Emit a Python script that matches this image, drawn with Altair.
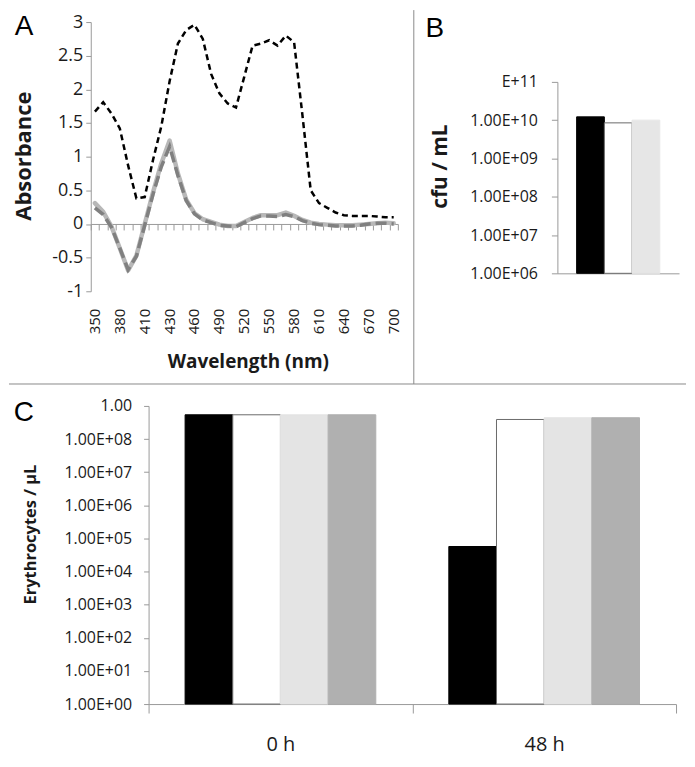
import altair as alt
import pandas as pd

# ---------------- data ----------------
WAVELENGTHS = [350, 360, 370, 380, 390, 400, 410, 415, 420, 430, 440, 450, 460, 470,
               480, 490, 500, 510, 520, 530, 540, 550, 560, 570, 580, 590, 600, 610,
               620, 630, 640, 650, 660, 670, 680, 690, 700]
A_BLACK = [1.67, 1.81, 1.64, 1.42, 0.87, 0.38, 0.40, 0.95, 1.45, 2.12, 2.68, 2.88, 2.96,
           2.75, 2.23, 1.94, 1.79, 1.73, 2.19, 2.65, 2.68, 2.73, 2.65, 2.80, 2.70, 1.62,
           0.50, 0.31, 0.24, 0.17, 0.13, 0.12, 0.12, 0.12, 0.11, 0.10, 0.10]
A_LIGHT = [0.31, 0.18, -0.04, -0.36, -0.69, -0.47, 0.00, 0.47, 0.90, 1.24, 0.75, 0.36,
           0.16, 0.07, 0.03, -0.01, -0.03, -0.03, 0.03, 0.09, 0.13, 0.13, 0.13, 0.17,
           0.12, 0.06, 0.02, 0.00, -0.01, -0.02, -0.02, -0.02, -0.01, 0.00, 0.01, 0.02, 0.01]
A_DARK = [0.24, 0.14, -0.05, -0.36, -0.68, -0.48, -0.02, 0.44, 0.85, 1.15, 0.72, 0.35,
          0.15, 0.06, 0.02, -0.02, -0.03, -0.04, 0.02, 0.08, 0.12, 0.12, 0.11, 0.14,
          0.11, 0.05, 0.01, -0.01, -0.02, -0.03, -0.03, -0.03, -0.02, 0.00, 0.01, 0.01, 0.00]
A_Y_TICKS = [-1, -0.5, 0, 0.5, 1, 1.5, 2, 2.5, 3]
A_X_LABELS = WAVELENGTHS[::3]

B_GROUPS = ["b1", "b2", "b3"]
B_VALUES = [1.22e10, 8.5e9, 1.0e10]
B_TICKS = [1e6, 1e7, 1e8, 1e9, 1e10, 1e11]
B_TICK_LABELS = ["1.00E+06", "1.00E+07", "1.00E+08", "1.00E+09", "1.00E+10", "E+11"]

C_TIMES = ["0 h", "48 h"]
C_GROUPS = ["c1", "c2", "c3", "c4"]
C_VALUES_0H = [5.4e8, 5.4e8, 5.4e8, 5.4e8]
C_VALUES_48H = [5.7e4, 3.9e8, 4.4e8, 4.4e8]
C_TICKS = [1, 1e1, 1e2, 1e3, 1e4, 1e5, 1e6, 1e7, 1e8, 1e9]
C_TICK_LABELS = ["1.00E+00", "1.00E+01", "1.00E+02", "1.00E+03", "1.00E+04",
                 "1.00E+05", "1.00E+06", "1.00E+07", "1.00E+08", "1.00"]

# ---------------- styles ----------------
FONT = "Open Sans"
AXIS_GRAY = "#9a9a9a"
TEXT = "#1a1a1a"
B_FILLS = ["#000000", "#ffffff", "#e6e6e6"]
B_STROKES = ["#000000", "#6a6a6a", "#e6e6e6"]
C_FILLS = ["#000000", "#ffffff", "#e4e4e4", "#b0b0b0"]
C_STROKES = ["#000000", "#6a6a6a", "#e4e4e4", "#b0b0b0"]


def label_expr(ticks, labels):
    expr = "''"
    for t, l in reversed(list(zip(ticks, labels))):
        expr = f"(abs(datum.value / {float(t)!r} - 1) < 0.000001 ? '{l}' : {expr})"
    return expr


one = alt.Data(values=[{"k": 0}])

# ---------------- panel A ----------------
dfA = pd.DataFrame({
    "wl": WAVELENGTHS * 3,
    "value": A_LIGHT + A_DARK + A_BLACK,
    "series": ["light"] * len(WAVELENGTHS) + ["dark"] * len(WAVELENGTHS) + ["black"] * len(WAVELENGTHS),
})
xA = alt.Scale(type="band", domain=WAVELENGTHS, range=[-58, 250], paddingInner=0, paddingOuter=0)
yA = alt.Scale(domain=[-1, 3], nice=False, zero=False)
yAxisA = alt.Axis(values=A_Y_TICKS, offset=58, tickSize=5, labelExpr="'' + datum.value",
                  labelFontSize=18, labelPadding=3, grid=False,
                  title="Absorbance", titleFontSize=22, titleX=-67, titleY=134,
                  titleAngle=-90, titleBaseline="middle", titleAlign="center")

baseA = alt.Chart(dfA)
lightA = baseA.transform_filter(alt.datum.series == "light").mark_line(
    color="#b8b8b8", strokeWidth=4.5, strokeJoin="round", strokeCap="round"
).encode(
    x=alt.X("wl:O", scale=xA, bandPosition=0.5,
            axis=alt.Axis(orient="bottom", offset=-67.5, labels=False, ticks=True,
                          tickBand="extent", tickSize=6, domain=True, title=None)),
    y=alt.Y("value:Q", scale=yA, axis=yAxisA),
)
darkA = baseA.transform_filter(alt.datum.series == "dark").mark_line(
    color="#808080", strokeWidth=3.5, strokeDash=[11, 5]
).encode(
    x=alt.X("wl:O", scale=xA, bandPosition=0.5,
            axis=alt.Axis(orient="bottom", values=A_X_LABELS, labelAngle=-90, domain=False,
                          ticks=False, labelPadding=17, labelFontSize=15,
                          title="Wavelength (nm)", titleFontSize=19, titleX=99.5, titleY=70,
                          titleBaseline="middle", titleAlign="center")),
    y=alt.Y("value:Q", scale=yA, axis=yAxisA),
)
blackA = baseA.transform_filter(alt.datum.series == "black").mark_line(
    color="#000000", strokeWidth=2.5, strokeDash=[6, 4]
).encode(
    x=alt.X("wl:O", scale=xA, bandPosition=0.5, axis=None),
    y=alt.Y("value:Q", scale=yA, axis=yAxisA),
)
vline = alt.Chart(one).mark_rule(color="#8a8a8a", strokeWidth=1).encode(
    x=alt.value(266), y=alt.value(-12), y2=alt.value(363))
hline = alt.Chart(one).mark_rule(color="#8a8a8a", strokeWidth=1).encode(
    x=alt.value(-140), x2=alt.value(539), y=alt.value(363))
letterA = alt.Chart(one).mark_text(text="A", font="Liberation Sans", fontSize=28,
                                   color="#000", align="center", baseline="alphabetic").encode(
    x=alt.value(-125), y=alt.value(13))

panelA = alt.layer(lightA, darkA, blackA, vline, hline, letterA).properties(
    width=250, height=270).resolve_axis(x="independent")

# ---------------- panel B ----------------
dfB = pd.DataFrame({"group": B_GROUPS, "value": B_VALUES})
barsB = alt.Chart(dfB).mark_bar(strokeWidth=1).encode(
    x=alt.X("group:N", sort=B_GROUPS,
            scale=alt.Scale(domain=B_GROUPS, paddingInner=0, paddingOuter=0.695),
            axis=alt.Axis(labels=False, ticks=False, title=None, domain=True)),
    y=alt.Y("value:Q",
            scale=alt.Scale(type="log", domain=[1e6, 1e11], range=[252, 60], nice=False),
            axis=alt.Axis(values=B_TICKS, labelExpr=label_expr(B_TICKS, B_TICK_LABELS),
                          tickSize=6, labelPadding=14, labelFontSize=16, grid=False,
                          title="cfu / mL", titleFontSize=21, titleX=-117, titleY=144.5,
                          titleAngle=-90, titleBaseline="middle", titleAlign="center")),
    y2=alt.Y2(datum=B_TICKS[0]),
    fill=alt.Fill("group:N", scale=alt.Scale(domain=B_GROUPS, range=B_FILLS), legend=None),
    stroke=alt.Stroke("group:N", scale=alt.Scale(domain=B_GROUPS, range=B_STROKES), legend=None),
)
letterB = alt.Chart(one).mark_text(text="B", font="Liberation Sans", fontSize=28,
                                   color="#000", align="center", baseline="alphabetic").encode(
    x=alt.value(-123), y=alt.value(15))
panelB = alt.layer(barsB, letterB).properties(width=122, height=252)

# ---------------- panel C ----------------
dfC = pd.DataFrame({
    "time": [C_TIMES[0]] * 4 + [C_TIMES[1]] * 4,
    "group": C_GROUPS * 2,
    "value": C_VALUES_0H + C_VALUES_48H,
})
barsC = alt.Chart(dfC).mark_bar(strokeWidth=1).encode(
    x=alt.X("time:N", sort=C_TIMES,
            scale=alt.Scale(domain=C_TIMES, paddingInner=0, paddingOuter=0),
            axis=alt.Axis(labelAngle=0, tickBand="extent", tickSize=9, labelFontSize=20,
                          labelPadding=22, title=None, domain=True)),
    xOffset=alt.XOffset("group:N", sort=C_GROUPS,
                        scale=alt.Scale(domain=C_GROUPS, paddingInner=0, paddingOuter=0.766)),
    y=alt.Y("value:Q", scale=alt.Scale(type="log", domain=[1, 1e9], nice=False),
            axis=alt.Axis(values=C_TICKS, labelExpr=label_expr(C_TICKS, C_TICK_LABELS),
                          tickSize=5, labelPadding=12, labelFontSize=16, grid=False,
                          title="Erythrocytes / µL", titleFontSize=16.5, titleX=-118,
                          titleY=128.5, titleAngle=-90, titleBaseline="middle",
                          titleAlign="center")),
    y2=alt.Y2(datum=C_TICKS[0]),
    fill=alt.Fill("group:N", scale=alt.Scale(domain=C_GROUPS, range=C_FILLS), legend=None),
    stroke=alt.Stroke("group:N", scale=alt.Scale(domain=C_GROUPS, range=C_STROKES), legend=None),
)
letterC = alt.Chart(one).mark_text(text="C", font="Liberation Sans", fontSize=28,
                                   color="#000", align="center", baseline="alphabetic").encode(
    x=alt.value(-125), y=alt.value(15))
panelC = alt.layer(barsC, letterC).properties(width=529, height=299)

chart = alt.concat(
    panelA, panelB, panelC, columns=2, align="none", bounds="flush",
    spacing={"row": 115, "column": -119},
).resolve_scale(fill="independent", stroke="independent").properties(
    padding=0, background="white"
).configure_view(stroke=None).configure_axis(
    labelFont=FONT, labelColor=TEXT, titleFont=FONT, titleFontWeight="bold", titleColor=TEXT,
    domainColor=AXIS_GRAY, tickColor=AXIS_GRAY, grid=False,
)

chart.save("out.html", embed_options={"renderer": "svg", "actions": False})
